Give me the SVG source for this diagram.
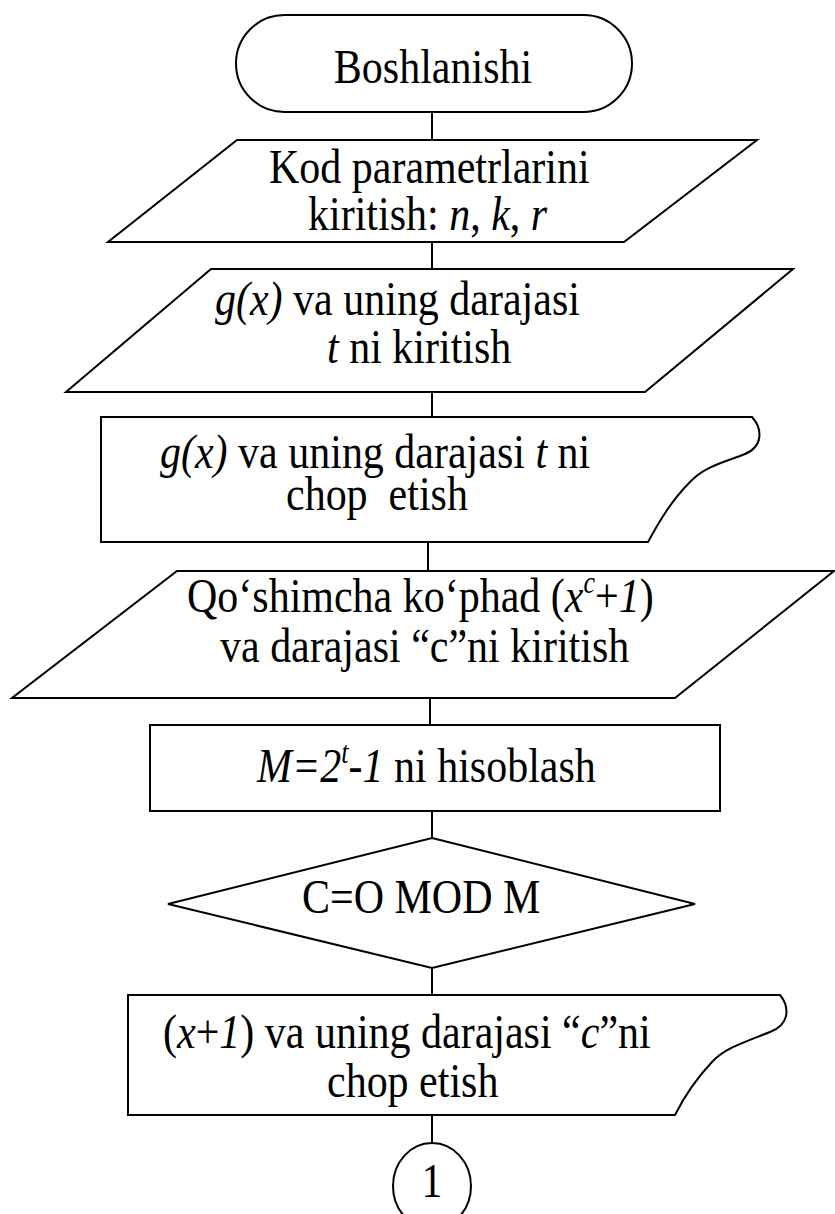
<svg xmlns="http://www.w3.org/2000/svg" width="835" height="1214" viewBox="0 0 835 1214">
<style>
.s{fill:#fff;stroke:#000;stroke-width:2;stroke-linejoin:miter}
.c{stroke:#000;stroke-width:2;fill:none}
.t{font-size:42px;fill:#000;white-space:pre}
.i{font-style:italic}
.m{text-anchor:middle}
</style>
<rect width="835" height="1214" fill="#fff"/>
<g id="connectors">
<line class="c" x1="432" y1="112" x2="432" y2="140"/>
<line class="c" x1="432" y1="242" x2="432" y2="269"/>
<line class="c" x1="432" y1="392" x2="432" y2="417"/>
<line class="c" x1="428" y1="542" x2="428" y2="571"/>
<line class="c" x1="430" y1="698" x2="430" y2="725"/>
<line class="c" x1="432" y1="811" x2="432" y2="838"/>
<line class="c" x1="432" y1="968" x2="432" y2="995"/>
<line class="c" x1="432" y1="1115" x2="432" y2="1143"/>
</g>
<g font-family="'Liberation Serif', 'DejaVu Serif', 'Times New Roman', serif">
<g id="start">
<rect class="s" x="236" y="15" width="396" height="97" rx="48.5" ry="48.5"/>
<text class="t m" transform="translate(433,83) scale(1,1.18)">Boshlanishi</text>
</g>
<g id="input-params">
<polygon class="s" points="237,140 757,140 624,242 108,242"/>
<text class="t" transform="translate(269,183) scale(1,1.18)">Kod parametrlarini</text>
<text class="t" transform="translate(308,230) scale(1,1.18)">kiritish: <tspan class="i">n</tspan>, <tspan class="i">k</tspan>, <tspan class="i">r</tspan></text>
</g>
<g id="input-g">
<polygon class="s" points="211,269 793,269 645,392 66,392"/>
<text class="t" transform="translate(215,315) scale(1,1.18)"><tspan class="i">g(x)</tspan> va uning darajasi</text>
<text class="t" transform="translate(327,363) scale(1,1.18)"><tspan class="i">t</tspan> ni kiritish</text>
</g>
<g id="print-g">
<path class="s" d="M101,417 H752 C762,428 764,446 745,454 C725,462 705,466 690,482 C672,500 660,520 648,542 H101 Z"/>
<text class="t" transform="translate(160,468) scale(1,1.18)"><tspan class="i">g(x)</tspan> va uning darajasi <tspan class="i">t</tspan> ni</text>
<text class="t" transform="translate(286,510) scale(1,1.18)">chop  etish</text>
</g>
<g id="input-extra">
<polygon class="s" points="177,571 834,571 675,698 12,698"/>
<text class="t" transform="translate(187,612) scale(1,1.18)">Qo‘shimcha ko‘phad (<tspan class="i">x</tspan><tspan class="i" font-size="26" dy="-16">c</tspan><tspan dy="16">+</tspan><tspan class="i">1</tspan>)</text>
<text class="t" transform="translate(220,662) scale(1,1.18)">va darajasi “c”ni kiritish</text>
</g>
<g id="compute-m">
<rect class="s" x="150" y="725" width="570" height="86"/>
<text class="t" transform="translate(257,782) scale(1,1.18)"><tspan class="i">M=2</tspan><tspan class="i" font-size="26" dy="-16">t</tspan><tspan class="i" dy="16">-1</tspan> ni hisoblash</text>
</g>
<g id="decision">
<polygon class="s" points="432,838 695,904 432,968 168,904"/>
<text class="t" transform="translate(302,913) scale(1,1.18)">C=O MOD M</text>
</g>
<g id="print-x">
<path class="s" d="M128,995 H780 C789,1006 791,1024 770,1032 C745,1042 725,1048 712,1062 C695,1080 685,1095 675,1115 H128 Z"/>
<text class="t" transform="translate(163,1048) scale(1,1.18)">(<tspan class="i">x</tspan>+<tspan class="i">1</tspan>) va uning darajasi “<tspan class="i">c</tspan>”ni</text>
<text class="t" transform="translate(327,1097) scale(1,1.18)">chop etish</text>
</g>
<g id="connector-1">
<ellipse class="s" cx="432" cy="1186" rx="39" ry="43"/>
<text class="t m" transform="translate(432,1197) scale(1,1.18)">1</text>
</g>
</g>
</svg>
